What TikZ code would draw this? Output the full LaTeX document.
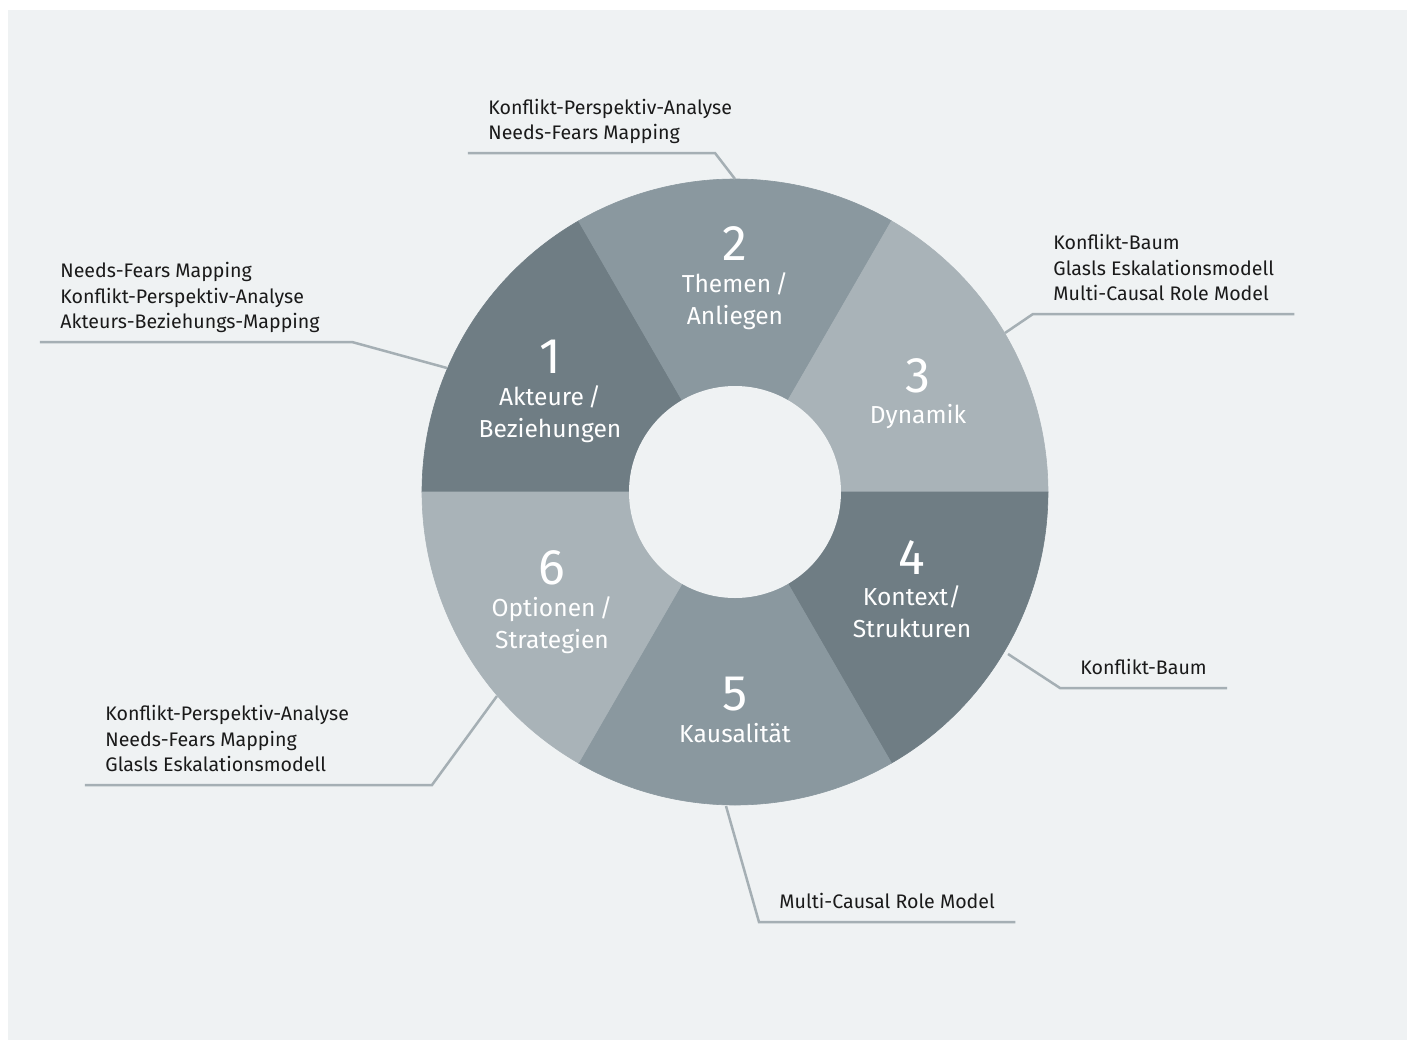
\documentclass[tikz,border=0pt]{standalone}
\usepackage{fontspec}
\setmainfont{Fira Sans}
\usetikzlibrary{calc}
\definecolor{bgcol}{HTML}{EFF2F3}
\definecolor{segdark}{HTML}{6F7D84}
\definecolor{segmid}{HTML}{8A989F}
\definecolor{seglight}{HTML}{A9B3B8}
\definecolor{leadcol}{HTML}{A5AFB4}
\definecolor{textcol}{HTML}{1A1A1A}

\begin{document}
\begin{tikzpicture}[
    x=0.5pt, y=0.5pt,
    segnum/.style={text=white, anchor=base, inner sep=0pt,
                   font=\fontsize{25}{30}\selectfont},
    segtext/.style={text=white, anchor=base, inner sep=0pt, align=center,
                    font=\fontsize{12.3}{16}\selectfont},
    tools/.style={text=textcol, anchor=south west, align=left,
                  inner xsep=10pt, inner ysep=2.5pt,
                  font=\fontsize{9.8}{12.9}\selectfont,
                  execute at end node={\strut}},
    leader/.style={draw=leadcol, line width=1.25pt}
  ]

  % ---- canvas ----
  \useasboundingbox (-735,-548) rectangle (678,492);
  \fill[bgcol] (-727,-548) rectangle (672,482);

  % ---- ring of six sectors ----
  \coordinate (c) at (0,0);
  \foreach \a/\col in {120/segdark, 60/segmid, 0/seglight,
                       -60/segdark, -120/segmid, 180/seglight} {
    \filldraw[fill=\col, draw=\col, line width=0.3pt]
      (c) -- (\a:313) arc[start angle=\a, delta angle=60, radius=313] -- cycle;
  }
  \fill[bgcol] (c) circle[radius=106];

  % ---- sector titles (base = last line) ----
  \node[segnum] (num1) at (-185,119) {1};
  \node[segtext] (seg1) at (-185,55) {Akteure\,/\\Beziehungen};
  \node[segnum] (num2) at (0,232) {2};
  \node[segtext] (seg2) at (0,168) {Themen\,/\\Anliegen};
  \node[segnum] (num3) at (183,100) {3};
  \node[segtext] (seg3) at (183,69) {Dynamik};
  \node[segnum] (num4) at (177,-82) {4};
  \node[segtext] (seg4) at (177,-145) {Kontext/\\Strukturen};
  \node[segnum] (num5) at (0,-218) {5};
  \node[segtext] (seg5) at (0,-250) {Kausalität};
  \node[segnum] (num6) at (-183,-92) {6};
  \node[segtext] (seg6) at (-183,-156) {Optionen\,/\\Strategien};

  % ---- methods per sector ----
  \node[tools] (tools1) at (-695,150)
    {Needs-Fears Mapping\\Konflikt-Perspektiv-Analyse\\Akteurs-Beziehungs-Mapping};
  \node[tools] (tools2) at (-267,339)
    {Konflikt-Perspektiv-Analyse\\Needs-Fears Mapping};
  \node[tools] (tools3) at (298,178)
    {Konflikt-Baum\\Glasls Eskalationsmodell\\Multi-Causal Role Model};
  \node[tools] (tools4) at (325,-196) {Konflikt-Baum};
  \node[tools] (tools5) at (24,-430) {Multi-Causal Role Model};
  \node[tools] (tools6) at (-650,-293)
    {Konflikt-Perspektiv-Analyse\\Needs-Fears Mapping\\Glasls Eskalationsmodell};

  % ---- leader lines ----
  \coordinate (ring1) at (-288,124);
  \coordinate (bend1) at (-383,150);
  \coordinate (ring2) at (0,313);
  \coordinate (bend2) at (-20,339);
  \coordinate (ring3) at (270,159);
  \coordinate (ring4) at (273,-162);
  \coordinate (ring5) at (-9,-314);
  \coordinate (ring6) at (-238,-204);
  \coordinate (bend6) at (-303,-293);

  \draw[leader] (ring1) -- (bend1) -- (tools1.south west);
  \draw[leader] (ring2) -- (bend2) -- (tools2.south west);
  \draw[leader] (ring3) -- (tools3.south west) -- (tools3.south east);
  \draw[leader] (ring4) -- (tools4.south west) -- (tools4.south east);
  \draw[leader] (ring5) -- (tools5.south west) -- (tools5.south east);
  \draw[leader] (ring6) -- (bend6) -- (tools6.south west);

\end{tikzpicture}
\end{document}
